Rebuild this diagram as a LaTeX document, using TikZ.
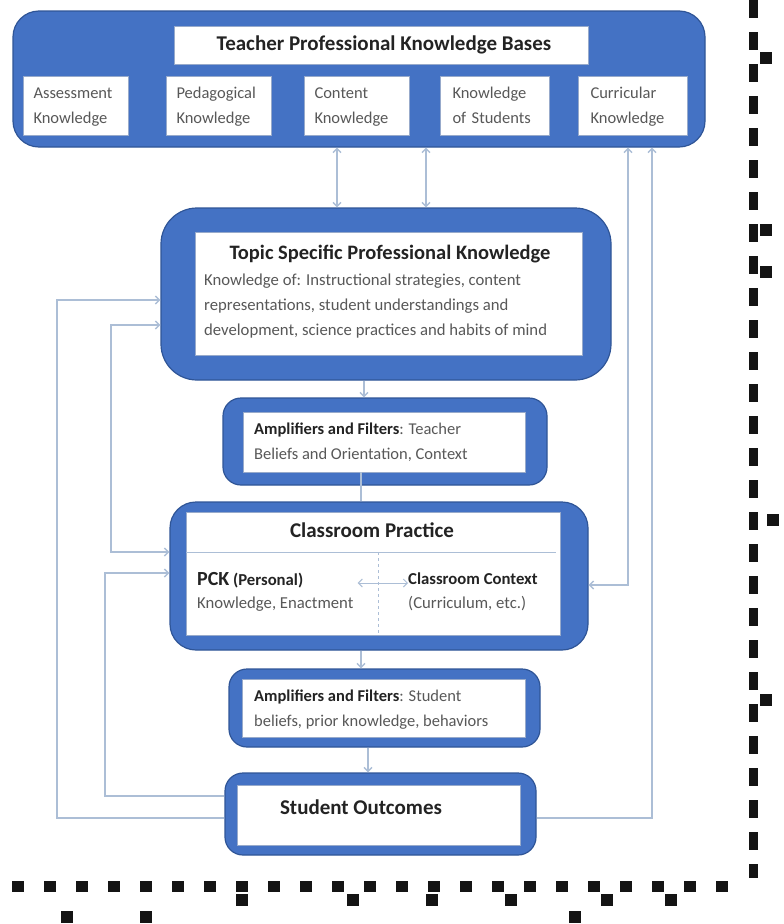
\documentclass[tikz,border=0pt]{standalone}
\usepackage{fontspec}
\setmainfont{Carlito}
\usetikzlibrary{arrows.meta,positioning}
\definecolor{boxblue}{RGB}{68,114,196}
\definecolor{boxedge}{RGB}{47,85,151}
\definecolor{linkgray}{RGB}{172,190,214}
\definecolor{txtgray}{RGB}{88,88,88}
\definecolor{txtdark}{RGB}{35,35,35}
\tikzset{
  outerbox/.style={draw=boxedge, fill=boxblue, line width=1.2pt, rounded corners=#1, inner sep=0pt},
  innerbox/.style={draw=boxedge!50, fill=white, line width=0.6pt, inner sep=0pt},
  kbox/.style={innerbox, minimum width=105pt, minimum height=59pt, text width=85pt, align=left,
    text=txtgray, font=\fontsize{16.5}{25}\selectfont},
  titletext/.style={inner sep=0pt, text=txtdark, font=\fontsize{#1}{#1}\selectfont\bfseries},
  bodytext/.style={inner sep=0pt, anchor=west, align=left, text=txtgray, font=\fontsize{#1}{25}\selectfont},
  link/.style={draw=linkgray, line width=1.4pt, >={Straight Barb[length=4pt,width=8pt]}},
}
\begin{document}
\begin{tikzpicture}[x=1pt,y=-1pt]
          \useasboundingbox (0,0) rectangle (784,924);
          % knowledge bases
          \node[outerbox=26pt, minimum width=692pt, minimum height=136pt] (tpkb) at (359,79){};
          \node[innerbox, minimum width=414pt, minimum height=38pt] (tpkbTitle) at (381,45){};
          \node[titletext=21] (tpkbText) at (384,45){Teacher Professional Knowledge Bases};
          \node[kbox] (assess) at (76,105.5){\strut Assessment\\Knowledge\strut};
          \node[kbox] (pedag) at (219,105.5){\strut Pedagogical\\Knowledge\strut};
          \node[kbox] (content) at (357,105.5){\strut Content\\Knowledge\strut};
          \node[kbox, minimum width=109pt] (students) at (495,105.5){\strut Knowledge\\of Students\strut};
          \node[kbox, minimum width=109pt] (curric) at (633,105.5){\strut Curricular\\Knowledge\strut};

          % topic specific
          \node[outerbox=36pt, minimum width=450pt, minimum height=172pt] (topic) at (386,294){};
          \node[innerbox, minimum width=387pt, minimum height=123pt] (topicIn) at (388.5,293.5){};
          \node[titletext=20.5] (topicTitle) at (390,254){Topic Specific Professional Knowledge};
          \node[bodytext=16.7] (topicBody) at (204,306.5){Knowledge of: Instructional strategies, content\\
            representations, student understandings and\\development, science practices and habits of mind};

          % teacher amplifiers
          \node[outerbox=18pt, minimum width=324pt, minimum height=87pt] (ampT) at (385,441.5){};
          \node[innerbox, minimum width=282pt, minimum height=60pt] (ampTIn) at (384,442){};
          \node[bodytext=16.5] (ampTText) at (254,442.5){\textcolor{txtdark}{\textbf{Amplifiers and Filters}}: Teacher\\
            Beliefs and Orientation, Context};

          % classroom practice
          \node[outerbox=26pt, minimum width=418pt, minimum height=148pt] (class) at (379,576){};
          \node[innerbox, minimum width=374pt, minimum height=123pt] (classIn) at (373,573.5){};
          \draw[linkgray, line width=1pt] (186,552) -- (556,552);
          \draw[linkgray, line width=1pt, dashed] (378,552) -- (378,635);
          \node[titletext=21] (classTitle) at (372,530){Classroom Practice};
          \node[bodytext=16.7, font=\fontsize{16.7}{23}\selectfont] (pck) at (197,592){\textcolor{txtdark}{\textbf{\fontsize{20}{23}\selectfont PCK} \textbf{(Personal)}}\\
            Knowledge, Enactment};
          \node[bodytext=16.7, font=\fontsize{16.7}{24}\selectfont] (context) at (408,592){\textcolor{txtdark}{\textbf{Classroom Context}}\\
            (Curriculum, etc.)};

          % student amplifiers
          \node[outerbox=18pt, minimum width=311pt, minimum height=78pt] (ampS) at (384.5,708){};
          \node[innerbox, minimum width=283pt, minimum height=58pt] (ampSIn) at (383.5,708){};
          \node[bodytext=16.5] (ampSText) at (254,709.5){\textcolor{txtdark}{\textbf{Amplifiers and Filters}}: Student\\
            beliefs, prior knowledge, behaviors};

          % student outcomes
          \node[outerbox=18pt, minimum width=311pt, minimum height=82pt] (stud) at (380.5,814){};
          \node[innerbox, minimum width=283pt, minimum height=60pt] (studIn) at (378.5,815){};
          \node[titletext=21] (studTitle) at (361,807){Student Outcomes};

          % main flow
          \draw[link,<->] (tpkb.south -| 337,0) -- (topic.north -| 337,0);
          \draw[link,<->] (tpkb.south -| 426,0) -- (topic.north -| 426,0);
          \draw[link,->] (topic.south -| 364,0) -- (ampT.north -| 364,0);
          \draw[link] (ampTIn.south -| 361,0) -- (class.north -| 361,0);
          \draw[link,->] (class.south -| 361,0) -- (ampS.north -| 361,0);
          \draw[link,->] (ampS.south -| 368,0) -- (stud.north -| 368,0);
          \draw[link,<->, line width=1pt] (pck.east |- 0,583) ++(4,0) -- (context.west |- 0,583);

          % feedback loops
          \draw[link,->] ([yshift=-4pt]stud.west) -| (57,300) -- (topic.west |- 0,300);
          \draw[link,->] ([yshift=18pt]stud.west) -| (105,573) -- (class.west |- 0,573);
          \draw[link,<->] (topic.west |- 0,325) -| (111,552) -- (class.west |- 0,552);
          \draw[link,<->] ([yshift=-9pt]class.east) -| (tpkb.south -| 628,0);
          \draw[link,->] ([yshift=-4pt]stud.east) -| (tpkb.south -| 652,0);

          % scan border
          \draw[black!92, line width=9pt, dash pattern=on 18pt off 14pt] (753,0) -- (753,878);
          \draw[black!92, line width=11pt, dash pattern=on 12pt off 20pt] (12,886) -- (748,886);
          \foreach \bx/\by in {67/917,146/917,575/917,242/900,353/900,432/900,511/900,607/900,671/900,766/58,766/230,766/272,773/520,766/700}
            \fill[black!92] (\bx-6,\by-6) rectangle (\bx+6,\by+6);
\end{tikzpicture}
\end{document}
